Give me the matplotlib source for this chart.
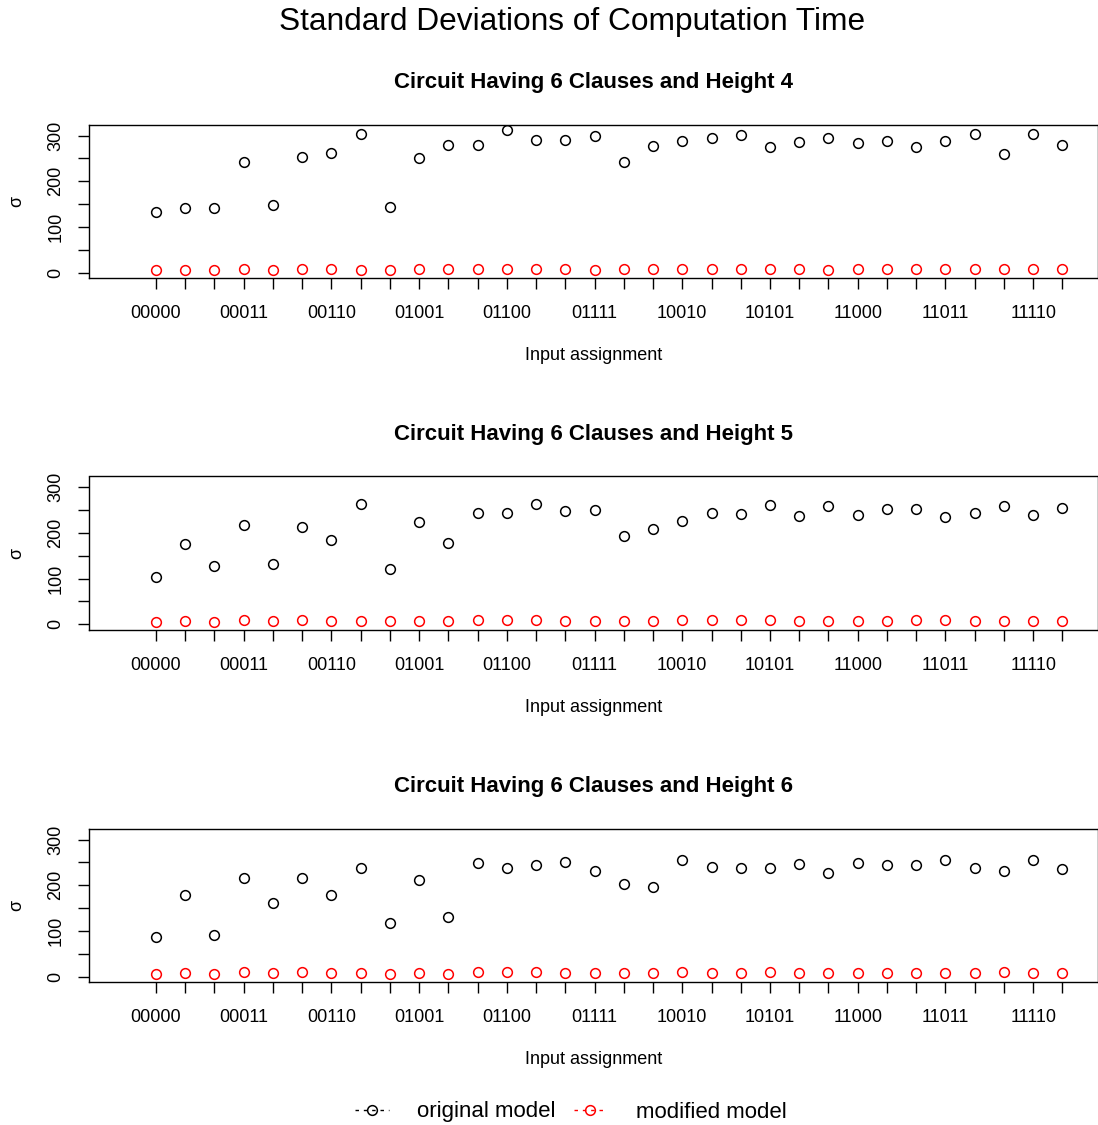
import numpy as np
import matplotlib
matplotlib.use("Agg")
import matplotlib.pyplot as plt
from matplotlib.lines import Line2D

plt.rcParams['font.family'] = ['Liberation Sans', 'DejaVu Sans']

# ---------------------------------------------------------------------
# data
# ---------------------------------------------------------------------
assignments = [format(i, "05b") for i in range(32)]
heights = [4, 5, 6]

orig_h4 = [133, 142, 141, 243, 147, 253, 261, 304, 143, 251, 279, 280, 311, 290, 291, 299,
           243, 278, 288, 295, 302, 274, 285, 294, 283, 288, 275, 288, 304, 260, 304, 280]
mod_h4 = [5, 6, 6, 8, 6, 8, 8, 6, 5, 7, 7, 7, 7, 7, 7, 5,
          8, 8, 7, 7, 7, 7, 7, 6, 7, 7, 7, 7, 7, 7, 7, 7]

orig_h5 = [103, 176, 127, 218, 131, 214, 184, 263, 122, 223, 177, 244, 244, 264, 248, 251,
           194, 208, 227, 244, 242, 261, 236, 259, 240, 253, 252, 234, 243, 259, 239, 254]
mod_h5 = [5, 7, 6, 9, 7, 9, 7, 8, 7, 8, 7, 9, 9, 9, 8, 8,
          8, 8, 9, 9, 9, 9, 8, 8, 8, 8, 9, 9, 8, 8, 8, 8]

orig_h6 = [86, 178, 92, 215, 161, 215, 178, 238, 117, 211, 131, 248, 238, 244, 251, 232,
           202, 197, 256, 239, 238, 237, 246, 226, 248, 245, 245, 256, 237, 231, 255, 235]
mod_h6 = [6, 8, 6, 10, 7, 11, 7, 9, 6, 9, 6, 10, 10, 10, 9, 9,
          9, 9, 11, 9, 9, 10, 9, 9, 9, 9, 9, 9, 9, 10, 9, 9]

original = [orig_h4, orig_h5, orig_h6]
modified = [mod_h4, mod_h5, mod_h6]

# ---------------------------------------------------------------------
# figure
# ---------------------------------------------------------------------
fig = plt.figure(figsize=(10.98, 11.25), dpi=100)

x = np.arange(len(assignments))
ymax = max(max(v) for v in original)
ylim = (-0.04 * ymax, 1.04 * ymax)

left, width = 89.3 / 1098, (1097.5 - 89.3) / 1098
bottoms = [1 - 278.3 / 1125, 1 - 630 / 1125, 1 - 982.3 / 1125]
h = 153.5 / 1125

for k, (hgt, o, m) in enumerate(zip(heights, original, modified)):
    ax = fig.add_axes([left, bottoms[k], width, h])
    ax.plot(x, o, "o", ms=7, mfc="none", mec="black", mew=1.1)
    ax.plot(x, m, "o", ms=7, mfc="none", mec="red", mew=1.1)

    ax.set_xlim(-2.28, 32.2)
    ax.set_ylim(*ylim)

    ax.set_xticks(x)
    ax.set_xticklabels([a if i % 3 == 0 else "" for i, a in enumerate(assignments)])
    ax.set_yticks(np.arange(0, 301, 50))
    ax.set_yticklabels([str(v) if v % 100 == 0 else "" for v in range(0, 301, 50)],
                       rotation=90, va="center")
    ax.tick_params(axis="both", length=8, width=1.0, labelsize=13, pad=10)
    ax.tick_params(axis="x", pad=11.5)
    for sp in ax.spines.values():
        sp.set_linewidth(1.0)

    ax.set_xlabel("Input assignment", fontsize=13)
    ax.xaxis.set_label_coords(0.5, -(355.5 - 278.3) / 153.5)
    ax.xaxis.label.set_va("center")
    ax.set_ylabel("σ", fontsize=13)
    ax.yaxis.set_label_coords(-(89.3 - 17) / 1008.2, 0.5)
    ax.yaxis.label.set_va("center")

    ax.text(0.5, 1 + 42 / 153.5, f"Circuit Having 6 Clauses and Height {hgt}",
            transform=ax.transAxes, ha="center", va="center",
            fontsize=16, fontweight="bold")

fig.text(572.5 / 1098, 1 - 22 / 1125, "Standard Deviations of Computation Time",
         ha="center", va="center", fontsize=22.8)

handles = [
    Line2D([], [], color="black", ls=(0, (2.5, 3.5)), marker="o", mfc="none",
           ms=7, mew=1.1, lw=1),
    Line2D([], [], color="red", ls=(0, (2.5, 3.5)), marker="o", mfc="none",
           ms=7, mew=1.1, lw=1),
]
fig.legend(handles, ["original model", "modified model"], loc="center",
           bbox_to_anchor=(571 / 1098, 1 - 1112 / 1125), ncol=2, frameon=False,
           fontsize=16, handlelength=1.5, handletextpad=1.3, columnspacing=0.8)

fig.savefig("out.png", dpi=100)
